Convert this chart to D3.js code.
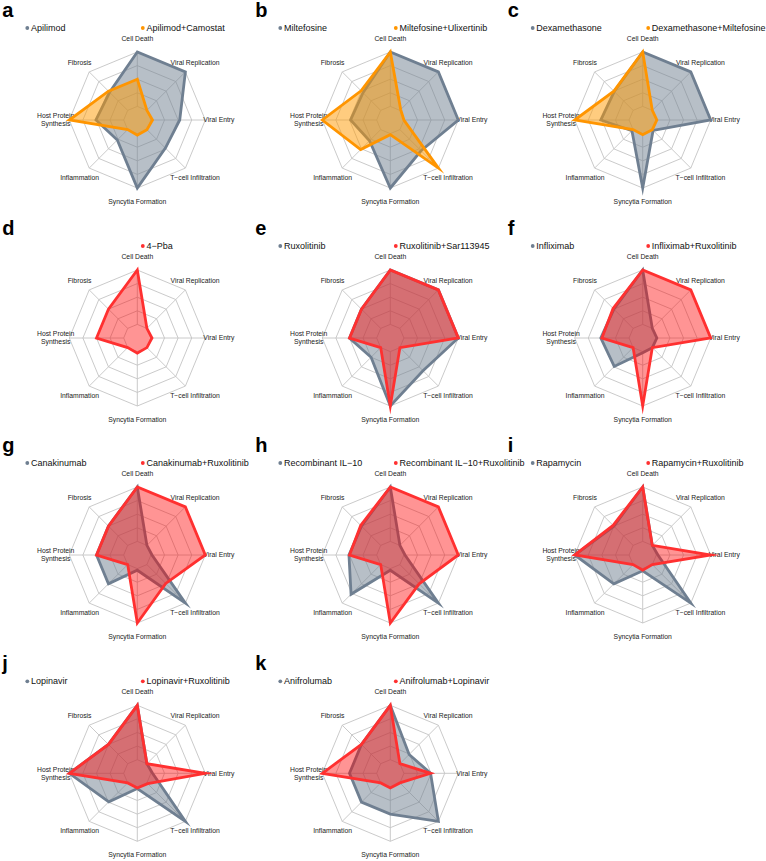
<!DOCTYPE html>
<html><head><meta charset="utf-8">
<script src="https://cdn.jsdelivr.net/npm/d3@7"></script>
<style>body{margin:0;background:#fff} svg{display:block} text{font-family:"Liberation Sans",Arial,Helvetica,sans-serif}</style>
</head><body><svg id="chart" width="766" height="861"></svg>
<script>
// axes in fmsb order (counter-clockwise from top)
const axes = ["Cell Death","Fibrosis","Host Protein\nSynthesis","Inflammation","Syncytia Formation","T−cell Infiltration","Viral Entry","Viral Replication"];
const gridLevels = [0, 0.25, 0.5, 0.75, 1];

// values: [CellDeath, Fibrosis, HostProtein, Inflammation, Syncytia, Tcell, ViralEntry, ViralReplication]
const apilimod            = [1.00, 0.47, 0.51, 0.27, 1.00, 0.48, 0.53, 1.00];
const apilimodCamostat    = [0.50, 0.50, 1.00, 0.00, 0.03, 0.00, 0.03, 0.00];
const miltefosine         = [1.00, 0.46, 0.48, 0.29, 1.00, 0.55, 1.00, 1.00];
const miltefosineUlix     = [1.00, 0.51, 1.00, 0.52, 0.02, 1.00, 0.00, 0.02];
const dexamethasone       = [1.00, 0.49, 0.52, 0.03, 1.00, 0.02, 1.00, 1.00];
const dexaMiltefosine     = [1.00, 0.50, 1.00, 0.00, 0.02, 0.00, 0.01, 0.00];
const pba4                = [1.00, 0.50, 0.50, 0.00, 0.03, 0.00, 0.02, 0.00];
const ruxolitinib         = [1.00, 0.50, 0.50, 0.25, 1.00, 0.60, 1.00, 1.00];
const ruxoSar             = [1.00, 0.50, 0.50, 0.00, 1.00, 0.00, 1.00, 1.00];
const infliximab          = [1.00, 0.50, 0.52, 0.49, 0.02, 0.00, 0.01, 0.00];
const infliximabRuxo      = [1.00, 0.52, 0.50, 0.00, 1.00, 0.00, 1.00, 1.00];
const canakinumab         = [1.00, 0.50, 0.50, 0.50, 0.03, 1.00, 0.02, 0.00];
const canakinumabRuxo     = [1.00, 0.50, 0.50, 0.00, 1.00, 0.49, 1.00, 1.00];
const il10                = [1.00, 0.50, 0.51, 0.77, 0.03, 1.00, 0.02, 0.00];
const il10Ruxo            = [1.00, 0.52, 0.50, 0.00, 1.00, 0.50, 1.00, 1.00];
const rapamycin           = [1.00, 0.50, 1.00, 0.50, 0.04, 1.00, 0.03, 0.00];
const rapamycinRuxo       = [1.00, 0.52, 1.00, 0.00, 0.03, 0.00, 1.00, 0.00];
const lopinavir           = [1.00, 0.50, 1.00, 0.49, 0.03, 1.00, 0.03, 0.00];
const lopinavirRuxo       = [1.00, 0.50, 1.00, 0.00, 0.02, 0.02, 1.00, 0.00];
const anifrolumab         = [1.00, 0.50, 0.50, 0.50, 0.50, 1.00, 0.49, 0.24];
const anifrolumabLopi     = [1.00, 0.50, 1.00, 0.00, 0.02, 0.00, 0.49, 0.00];

const panelLetters = ["a","b","c","d","e","f","g","h","i","j","k"];
const seriesNames = [
  ["Apilimod","Apilimod+Camostat"],
  ["Miltefosine","Miltefosine+Ulixertinib"],
  ["Dexamethasone","Dexamethasone+Miltefosine"],
  [null,"4−Pba"],
  ["Ruxolitinib","Ruxolitinib+Sar113945"],
  ["Infliximab","Infliximab+Ruxolitinib"],
  ["Canakinumab","Canakinumab+Ruxolitinib"],
  ["Recombinant IL−10","Recombinant IL−10+Ruxolitinib"],
  ["Rapamycin","Rapamycin+Ruxolitinib"],
  ["Lopinavir","Lopinavir+Ruxolitinib"],
  ["Anifrolumab","Anifrolumab+Lopinavir"]
];
const seriesValues = [
  [apilimod, apilimodCamostat],
  [miltefosine, miltefosineUlix],
  [dexamethasone, dexaMiltefosine],
  [null, pba4],
  [ruxolitinib, ruxoSar],
  [infliximab, infliximabRuxo],
  [canakinumab, canakinumabRuxo],
  [il10, il10Ruxo],
  [rapamycin, rapamycinRuxo],
  [lopinavir, lopinavirRuxo],
  [anifrolumab, anifrolumabLopi]
];
const comboKind = ["orange","orange","orange","red","red","red","red","red","red","red","red"];

const styles = {
  gray:   {stroke:"#6f7f91", fill:"rgba(112,128,144,0.5)", dot:"#6f7f91"},
  orange: {stroke:"#ff9500", fill:"rgba(255,153,0,0.5)",  dot:"#ff9500"},
  red:    {stroke:"#ff3030", fill:"rgba(255,0,0,0.42)",   dot:"#ff3030"}
};

const svg = d3.select("#chart");
svg.append("rect").attr("width",766).attr("height",861).attr("fill","#fff");

const colX = [137.3, 390.3, 642.7];
const rowY = [120, 338, 555, 773.3];
const R = 68;
const rScale = d3.scaleLinear().domain([0,1]).range([0.2*R, R]);
const aScale = d3.scaleLinear().domain([0, axes.length]).range([0, -2*Math.PI]);

const radial = d3.lineRadial()
  .angle((d,i)=>aScale(i))
  .radius(d=>rScale(d))
  .curve(d3.curveLinearClosed);

panelLetters.forEach((letter, p)=>{
  const cx = colX[p%3], cy = rowY[Math.floor(p/3)];
  const g = svg.append("g").attr("transform",`translate(${cx},${cy})`);

  // grid octagons
  gridLevels.forEach(l=>{
    g.append("path").attr("d", radial(axes.map(()=>l)))
      .attr("fill","none").attr("stroke","#c4c4c4").attr("stroke-width",0.9);
  });
  // spokes
  axes.forEach((a,i)=>{
    const ang = aScale(i);
    g.append("line")
      .attr("x1", rScale(0)*Math.sin(ang)).attr("y1", -rScale(0)*Math.cos(ang))
      .attr("x2", rScale(1)*Math.sin(ang)).attr("y2", -rScale(1)*Math.cos(ang))
      .attr("stroke","#c4c4c4").attr("stroke-width",0.9);
  });
  // axis labels
  axes.forEach((a,i)=>{
    const ang = aScale(i);
    const lx = 1.2*R*Math.sin(ang), ly = -1.2*R*Math.cos(ang);
    const lines = a.split("\n");
    const t = g.append("text").attr("x",lx).attr("y",ly)
      .attr("text-anchor","middle").attr("font-size",6.8).attr("fill","#222");
    lines.forEach((ln,k)=>{
      t.append("tspan").attr("x",lx)
        .attr("y", ly + (k - (lines.length-1)/2)*8.2)
        .attr("dy","0.35em").text(ln);
    });
  });
  // polygons
  const vals = seriesValues[p];
  const kinds = ["gray", comboKind[p]];
  vals.forEach((v,s)=>{
    if(!v) return;
    const st = styles[kinds[s]];
    g.append("path").attr("d", radial(v))
      .attr("fill", st.fill).attr("stroke", st.stroke)
      .attr("stroke-width", 2.8).attr("stroke-linejoin","miter").attr("stroke-miterlimit",10);
  });
  // legend
  const names = seriesNames[p];
  const legX = [-110, 5.5];
  names.forEach((nm,s)=>{
    if(!nm) return;
    const st = styles[kinds[s]];
    g.append("circle").attr("cx",legX[s]).attr("cy",-92).attr("r",1.9).attr("fill",st.dot);
    g.append("text").attr("x",legX[s]+3.6).attr("y",-92).attr("dy","0.35em")
      .attr("font-size",9).attr("fill","#111").text(nm);
  });
  // panel letter
  g.append("text").attr("x",-135).attr("y",-103)
    .attr("font-size",20).attr("font-weight","bold").attr("fill","#000").text(letter);
});
</script>
</body></html>
